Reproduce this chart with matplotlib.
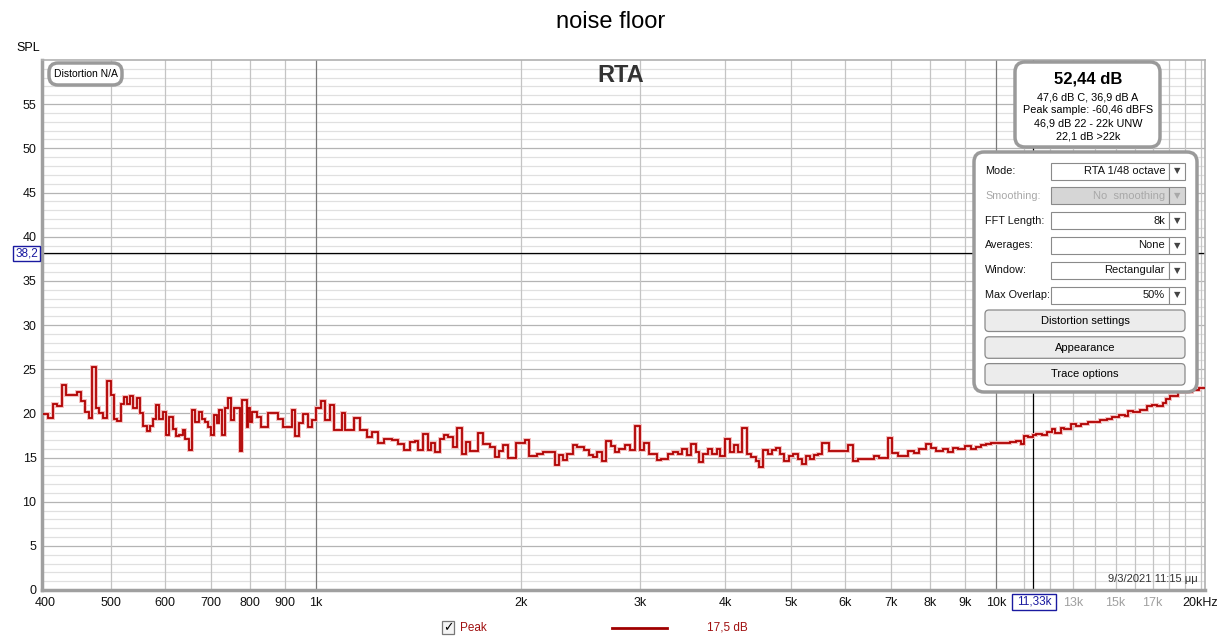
import matplotlib.pyplot as plt
from matplotlib.patches import FancyBboxPatch, Rectangle
from matplotlib.ticker import NullLocator

W, H = 1222, 643

# Peak trace (RTA 1/48 octave), step edges in Hz and level of each step in dB SPL
band_edges_hz = [
    397, 403.9, 410.8, 416.4, 422.7, 428.9, 445.6, 451.2, 457.4, 463.6,
    468.8, 474.7, 480.1, 485.6, 492.3, 499.0, 504.6, 510.3, 516.7, 522.0,
    527.8, 532.7, 538.7, 544.9, 551.0, 557.2, 563.7, 570.0, 576.4, 581.7,
    588.2, 595.0, 601.7, 608.5, 615.5, 622.4, 629.4, 636.7, 642.3, 649.8,
    657.1, 664.5, 672.2, 679.7, 686.0, 693.7, 701.5, 707.9, 714.4, 720.7,
    727.3, 735.5, 742.3, 749.1, 757.5, 773.1, 779.2, 790.9, 795.2, 799.8,
    806.0, 818.2, 830.2, 851.0, 880.3, 895.3, 921.1, 931.4, 944.1, 957.9,
    974.3, 987.6, 999, 1017, 1031, 1049, 1063, 1091, 1103, 1138,
    1161, 1187, 1208, 1235, 1260, 1295, 1322, 1349, 1375, 1398,
    1411, 1438, 1460, 1476, 1496, 1522, 1543, 1565, 1589, 1610,
    1638, 1662, 1685, 1733, 1762, 1803, 1834, 1860, 1886, 1918,
    1969, 2000, 2029, 2059, 2111, 2159, 2246, 2279, 2306, 2337,
    2385, 2422, 2478, 2523, 2557, 2592, 2631, 2670, 2713, 2752,
    2793, 2847, 2896, 2945, 2996, 3039, 3088, 3170, 3216, 3297,
    3353, 3410, 3457, 3509, 3560, 3617, 3658, 3712, 3767, 3826,
    3884, 3928, 3995, 4063, 4122, 4170, 4227, 4299, 4362, 4432,
    4482, 4548, 4616, 4679, 4743, 4813, 4883, 4961, 5034, 5110,
    5179, 5250, 5327, 5405, 5479, 5554, 5677, 6068, 6161, 6271,
    6612, 6729, 6928, 7028, 7177, 7433, 7565, 7699, 7899, 8020,
    8163, 8356, 8504, 8655, 8806, 9017, 9177, 9337, 9505, 9674,
    9845, 10320, 10500, 10686, 10876, 11006, 11137, 11331, 11467, 11670,
    11878, 12089, 12229, 12445, 12594, 12892, 13121, 13354, 13670, 13993,
    14241, 14578, 14837, 15188, 15458, 15642, 15920, 16296, 16681, 16977,
    17278, 17586, 17789, 18001, 18539, 19426, 19885, 20295,
]
peak_db = [
    19.9, 19.5, 21.1, 20.85, 23.2, 22.1, 22.4, 21.4, 20.2, 19.5,
    25.3, 20.55, 20.0, 19.5, 23.7, 22.1, 19.35, 19.15, 21.1, 21.9,
    21.1, 21.95, 20.55, 21.7, 20.0, 18.6, 18.0, 18.6, 19.4, 21.0,
    19.4, 20.1, 17.5, 19.6, 18.2, 17.45, 17.6, 18.1, 17.15, 15.8,
    20.4, 19.05, 20.1, 19.4, 19.05, 18.5, 17.6, 19.8, 18.85, 20.4,
    17.6, 20.55, 21.75, 19.25, 20.6, 15.7, 21.5, 18.5, 20.55, 19.05,
    20.2, 19.6, 18.5, 20.0, 19.4, 18.5, 20.4, 17.45, 18.85, 19.9,
    18.5, 19.25, 20.6, 21.4, 19.25, 20.9, 18.1, 20.0, 18.1, 19.5,
    18.1, 17.35, 17.9, 16.6, 17.15, 16.95, 16.5, 15.85, 16.7, 16.85,
    15.85, 17.65, 15.85, 16.6, 15.65, 17.15, 17.55, 17.35, 16.2, 18.3,
    15.45, 16.8, 15.7, 17.8, 16.5, 16.2, 15.1, 15.75, 16.4, 15.0,
    16.65, 16.6, 16.95, 15.15, 15.4, 15.65, 14.15, 15.25, 14.7, 15.45,
    16.4, 16.2, 15.85, 15.25, 15.1, 15.65, 14.6, 16.9, 16.3, 15.65,
    16.0, 16.4, 15.85, 18.55, 15.85, 16.65, 15.45, 14.7, 14.8, 15.45,
    15.65, 15.45, 16.0, 15.25, 16.5, 15.65, 14.5, 15.45, 16.0, 15.45,
    16.0, 15.15, 17.05, 15.65, 16.4, 15.65, 18.3, 15.45, 15.1, 14.6,
    13.95, 15.9, 15.45, 15.9, 16.1, 15.45, 14.6, 15.15, 15.4, 14.8,
    14.3, 15.15, 14.8, 15.25, 15.4, 16.6, 15.73, 16.4, 14.56, 14.83,
    15.22, 14.95, 17.18, 15.53, 15.22, 15.73, 15.53, 15.93, 16.5, 16.12,
    15.73, 15.93, 15.61, 16.12, 15.93, 16.32, 16.0, 16.24, 16.4, 16.5,
    16.63, 16.59, 16.79, 16.9, 16.5, 17.42, 17.3, 17.5, 17.69, 17.57,
    17.88, 18.2, 17.8, 18.35, 18.2, 18.74, 18.59, 18.74, 19.06, 18.98,
    19.25, 19.37, 19.53, 19.76, 19.65, 20.24, 20.16, 20.43, 20.82, 20.94,
    20.82, 21.21, 21.6, 22.0, 22.4, 22.66, 22.9,
]

y_ticks = [0, 5, 10, 15, 20, 25, 30, 35, 40, 45, 50, 55]
x_ticks_hz = [400, 500, 600, 700, 800, 900, 1000, 2000, 3000, 4000, 5000,
              6000, 7000, 8000, 9000, 10000, 13000, 15000, 17000, 20000]
x_tick_labels = ['400', '500', '600', '700', '800', '900', '1k', '2k', '3k', '4k', '5k',
                 '6k', '7k', '8k', '9k', '10k', '13k', '15k', '17k', '20kHz']
faint_ticks = ['13k', '15k', '17k']
grid_hz = [500, 600, 700, 800, 900, 2000, 3000, 4000, 5000, 6000, 7000, 8000, 9000,
           11000, 12000, 13000, 14000, 15000, 16000, 17000, 18000, 19000, 20000]
decade_hz = [1000, 10000]
cursor_hz, cursor_db = 11330, 38.2

info_lines = ['47,6 dB C, 36,9 dB A', 'Peak sample: -60,46 dBFS',
              '46,9 dB 22 - 22k UNW', '22,1 dB >22k']
settings = [('Mode:', 'RTA 1/48 octave'), ('Smoothing:', 'No  smoothing'),
            ('FFT Length:', '8k'), ('Averages:', 'None'),
            ('Window:', 'Rectangular'), ('Max Overlap:', '50%')]
buttons = ['Distortion settings', 'Appearance', 'Trace options']

plt.rcParams['font.family'] = ['Liberation Sans', 'DejaVu Sans']

fig = plt.figure(figsize=(W / 100, H / 100), dpi=100)
fig.patch.set_facecolor('white')

# main plot area
ax = fig.add_axes([42 / W, 1 - 590 / H, (1205 - 42) / W, (590 - 60) / H])
ax.set_xscale('log')
ax.set_xlim(395.5, 20300)
ax.set_ylim(0, 60)

for v in range(1, 60):
    major = v % 5 == 0
    ax.axhline(v, color='#b4b4b4' if major else '#e0e0e0', lw=0.9, zorder=0)
for f in grid_hz:
    ax.axvline(f, color='#c4c4c4', lw=0.9, zorder=0)
for f in decade_hz:
    ax.axvline(f, color='#7a7a7a', lw=0.9, zorder=0)

ax.stairs(peak_db, band_edges_hz, baseline=None, color='#f4bcbc', lw=2.8, zorder=2)
ax.stairs(peak_db, band_edges_hz, baseline=None, color='#b00000', lw=1.3, zorder=3)

ax.axhline(cursor_db, color='black', lw=0.9, zorder=1)
ax.axvline(cursor_hz, color='black', lw=0.9, zorder=1)

ax.set_yticks(y_ticks)
ax.set_xticks(x_ticks_hz)
ax.set_xticklabels(x_tick_labels)
ax.xaxis.set_minor_locator(NullLocator())
ax.tick_params(length=0, labelsize=9, colors='#111111')
ax.tick_params(axis='x', pad=5)
ax.tick_params(axis='y', pad=4)
for lab in ax.get_xticklabels():
    if lab.get_text() in faint_ticks:
        lab.set_color('#a0a0a0')

for side in ['top', 'right']:
    ax.spines[side].set_color('#b0b0b0')
    ax.spines[side].set_linewidth(1.2)
for side in ['left', 'bottom']:
    ax.spines[side].set_color('#a0a0a0')
    ax.spines[side].set_linewidth(2.5)

ax.text(0.994, 0.012, '9/3/2021 11:15 μμ', transform=ax.transAxes,
        ha='right', va='bottom', fontsize=8, color='#333333')

# overlay in pixel coordinates for the panels and labels
ov = fig.add_axes([0, 0, 1, 1], zorder=5)
ov.set_xlim(0, W)
ov.set_ylim(H, 0)
ov.axis('off')
ov.patch.set_visible(False)


def rbox(x, y, w, h, r=8, fc='white', ec='#9a9a9a', lw=2.5):
    ov.add_patch(FancyBboxPatch((x, y), w, h, boxstyle=f'round,pad=0,rounding_size={r}',
                                fc=fc, ec=ec, lw=lw))


ov.text(611, 22, 'noise floor', ha='center', va='center', fontsize=17)
ov.text(28, 48, 'SPL', ha='center', va='center', fontsize=9)
ov.text(621, 75, 'RTA', ha='center', va='center', fontsize=17, weight='bold', color='#333333')

rbox(49, 63, 73, 22, r=9)
ov.text(85.5, 74, 'Distortion N/A', ha='center', va='center', fontsize=7.5)

# level readout box
rbox(1015, 62, 145, 85, r=10)
ov.text(1088, 79, '52,44 dB', ha='center', va='center', fontsize=12, weight='bold')
for i, line in enumerate(info_lines):
    ov.text(1088, 97 + i * 13.3, line, ha='center', va='center', fontsize=7.8)

# settings panel
rbox(974, 152, 223, 240, r=10)
for i, (name, value) in enumerate(settings):
    yc = 171 + i * 24.8
    disabled = name == 'Smoothing:'
    tcol = '#a8a8a8' if disabled else '#111111'
    ov.text(985, yc, name, ha='left', va='center', fontsize=7.8, color=tcol)
    ov.add_patch(Rectangle((1051, yc - 8.5), 118, 17, fc='#d6d6d6' if disabled else 'white',
                           ec='#8a8a8a', lw=0.8))
    ov.add_patch(Rectangle((1169, yc - 8.5), 16, 17, fc='#d6d6d6' if disabled else 'white',
                           ec='#8a8a8a', lw=0.8))
    ov.text(1165, yc, value, ha='right', va='center', fontsize=8, color=tcol)
    ov.text(1177, yc, '▼', ha='center', va='center', fontsize=6,
            color='#a8a8a8' if disabled else '#444444', family='DejaVu Sans')
for i, label in enumerate(buttons):
    yt = 310 + i * 26.8
    rbox(985, yt, 200, 21.5, r=4, fc='#ececec', ec='#8a8a8a', lw=0.9)
    ov.text(1085, yt + 10.8, label, ha='center', va='center', fontsize=8)

# cursor value boxes
ov.add_patch(Rectangle((13, 246), 27, 15, fc='white', ec='#1a1aa0', lw=1))
ov.text(26.5, 253.5, '38,2', ha='center', va='center', fontsize=8.5, color='#1a1aa0')
ov.add_patch(Rectangle((1012, 594), 44, 16, fc='white', ec='#1a1aa0', lw=1))
ov.text(1034, 602, '11,33k', ha='center', va='center', fontsize=8.5, color='#1a1aa0')

# legend row
ov.add_patch(Rectangle((442, 621), 12, 13, fc='#f4f4f4', ec='#777777', lw=0.9))
ov.text(448, 627.5, '✓', ha='center', va='center', fontsize=9, weight='bold',
        family='DejaVu Sans')
ov.text(460, 628, 'Peak', ha='left', va='center', fontsize=8.5, color='#a01010')
ov.plot([612, 667], [628, 628], color='#a00000', lw=2)
ov.text(727, 628, '17,5 dB', ha='center', va='center', fontsize=8.5, color='#a01010')

fig.savefig('out.png', dpi=100)
